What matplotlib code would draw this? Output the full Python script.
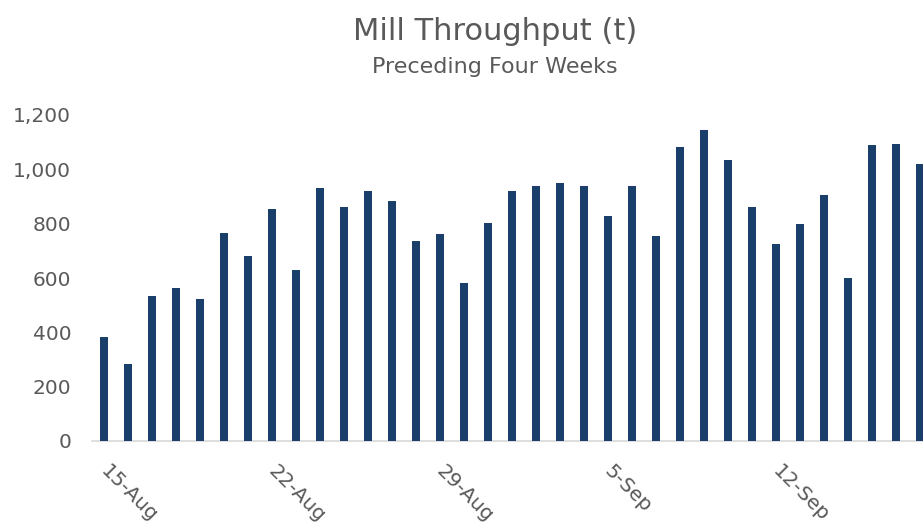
import numpy as np
import pandas as pd
import matplotlib
matplotlib.use("Agg")
import matplotlib.pyplot as plt
from matplotlib.transforms import ScaledTranslation

# daily mill throughput (t), 15-Aug to 18-Sep
days = pd.date_range("2023-08-15", periods=35, freq="D")
throughput = [382, 283, 532, 562, 524, 765, 681, 855, 629, 933,
              860, 922, 883, 736, 761, 581, 803, 922, 940, 948,
              937, 827, 937, 753, 1081, 1146, 1033, 860, 724, 800,
              904, 601, 1088, 1092, 1019]
label_every = 7

title = "Mill Throughput (t)"
subtitle = "Preceding Four Weeks"

bar_color = "#1b3f6b"
text_color = "#595959"

fig = plt.figure(figsize=(9.23, 5.25), dpi=100)
W, H = 923, 525
# axes runs past the right edge like the original (last bar is cut off)
ax = fig.add_axes([92 / W, 84 / H, 840 / W, 326 / H])

x = np.arange(len(throughput))
ax.bar(x, throughput, width=0.34, color=bar_color, zorder=3)

ax.set_xlim(-0.5, len(throughput) - 0.5)
ax.set_ylim(0, 1200)
ax.set_yticks(range(0, 1201, 200))
ax.set_yticklabels([f"{v:,}" for v in range(0, 1201, 200)])

ticks = x[::label_every]
ax.set_xticks(ticks)
ax.set_xticklabels([f"{d.day}-{d.strftime('%b')}" for d in days[::label_every]])

for s in ["top", "right", "left"]:
    ax.spines[s].set_visible(False)
ax.spines["bottom"].set_color("#d9d9d9")
ax.spines["bottom"].set_linewidth(1.2)

ax.tick_params(axis="y", length=0, pad=15, labelsize=14.5, labelcolor=text_color)
ax.tick_params(axis="x", length=0, pad=15, labelsize=14.5, labelcolor=text_color)

shift = ScaledTranslation(6 / 100, 0, fig.dpi_scale_trans)
for lab in ax.get_xticklabels():
    lab.set_rotation(-45)
    lab.set_rotation_mode("anchor")
    lab.set_ha("left")
    lab.set_va("top")
    lab.set_transform(lab.get_transform() + shift)

fig.text(495 / W, 1 - 32 / H, title, ha="center", va="center",
         fontsize=22, color=text_color)
fig.text(495 / W, 1 - 67 / H, subtitle, ha="center", va="center",
         fontsize=16, color=text_color)

fig.savefig("out.png", dpi=100)
